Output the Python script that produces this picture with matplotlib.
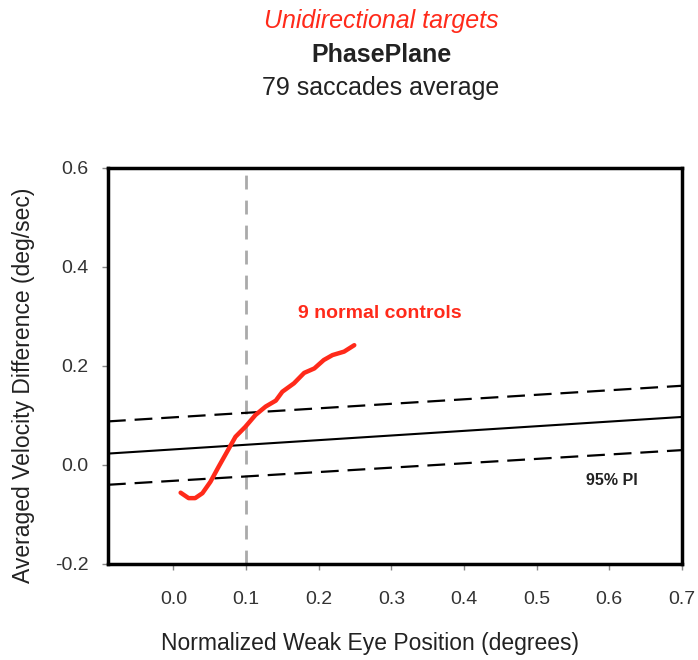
import matplotlib
matplotlib.use('Agg')

import matplotlib.pyplot as plt

plt.rcParams['font.family'] = ['Liberation Sans', 'DejaVu Sans']

# 正常对照组的平均相平面曲线
ctrl_x = [0.010, 0.021, 0.030, 0.040, 0.051, 0.0625, 0.074, 0.0855, 0.099, 0.113,
          0.127, 0.141, 0.150, 0.166, 0.180, 0.194, 0.207, 0.219, 0.235, 0.249]
ctrl_y = [-0.056, -0.067, -0.067, -0.057, -0.034, -0.003, 0.027, 0.057, 0.077, 0.101,
          0.118, 0.130, 0.148, 0.165, 0.186, 0.195, 0.212, 0.222, 0.229, 0.242]

# 回归线及95%预测区间 (两端点)
fit_x = [-0.09, 0.70]
fit_y = [0.023, 0.097]
pi_upper = [0.088, 0.160]
pi_lower = [-0.040, 0.030]

x_ticks = [0.0, 0.1, 0.2, 0.3, 0.4, 0.5, 0.6, 0.7]
y_ticks = [-0.2, 0.0, 0.2, 0.4, 0.6]
marker_x = 0.1

fig = plt.figure(figsize=(6.98, 6.6), dpi=100)
ax = fig.add_axes([0.1547, 0.1455, 0.8223, 0.6])

ax.axvline(marker_x, color='#aaaaaa', lw=2, dashes=(5, 4))
ax.plot(fit_x, fit_y, color='black', lw=1.5)
ax.plot(fit_x, pi_upper, color='black', lw=1.6, dashes=(8, 4))
ax.plot(fit_x, pi_lower, color='black', lw=1.6, dashes=(8, 4))
ax.plot(ctrl_x, ctrl_y, color='#ff2a1a', lw=3.2, solid_capstyle='round')

ax.text(0.171, 0.307, '9 normal controls', color='#ff2a1a', fontsize=14,
        fontweight='bold', va='center', ha='left')
ax.text(0.603, -0.032, '95% PI', color='#222222', fontsize=11.5,
        fontweight='bold', va='center', ha='center')

ax.set_xlim(-0.09, 0.7)
ax.set_ylim(-0.2, 0.6)
ax.set_xticks(x_ticks)
ax.set_xticklabels(['%.1f' % v for v in x_ticks])
ax.set_yticks(y_ticks)
ax.set_yticklabels(['%.1f' % v for v in y_ticks])

for s in ax.spines.values():
    s.set_linewidth(2.5)
    s.set_color('black')
ax.tick_params(axis='both', length=4, width=1, color='#888888',
               labelsize=14, labelcolor='#333333')
ax.tick_params(axis='x', pad=15.5)
ax.tick_params(axis='y', pad=10)

ax.set_xlabel('Normalized Weak Eye Position (degrees)', fontsize=16.5,
              color='#222222', va='center')
ax.xaxis.set_label_coords(0.456, -0.2)
ax.set_ylabel('Averaged Velocity Difference (deg/sec)', fontsize=16.5,
              color='#222222', va='center')
ax.yaxis.set_label_coords(-0.148, 0.452)

fig.text(0.546, 0.9576, 'Unidirectional targets', color='#ff2a1a', fontsize=18,
         style='italic', ha='center', va='baseline')
fig.text(0.546, 0.906, 'PhasePlane', color='#222222', fontsize=18,
         fontweight='bold', ha='center', va='baseline')
fig.text(0.546, 0.856, '79 saccades average', color='#222222', fontsize=18,
         ha='center', va='baseline')

fig.savefig('out.png', dpi=100)
